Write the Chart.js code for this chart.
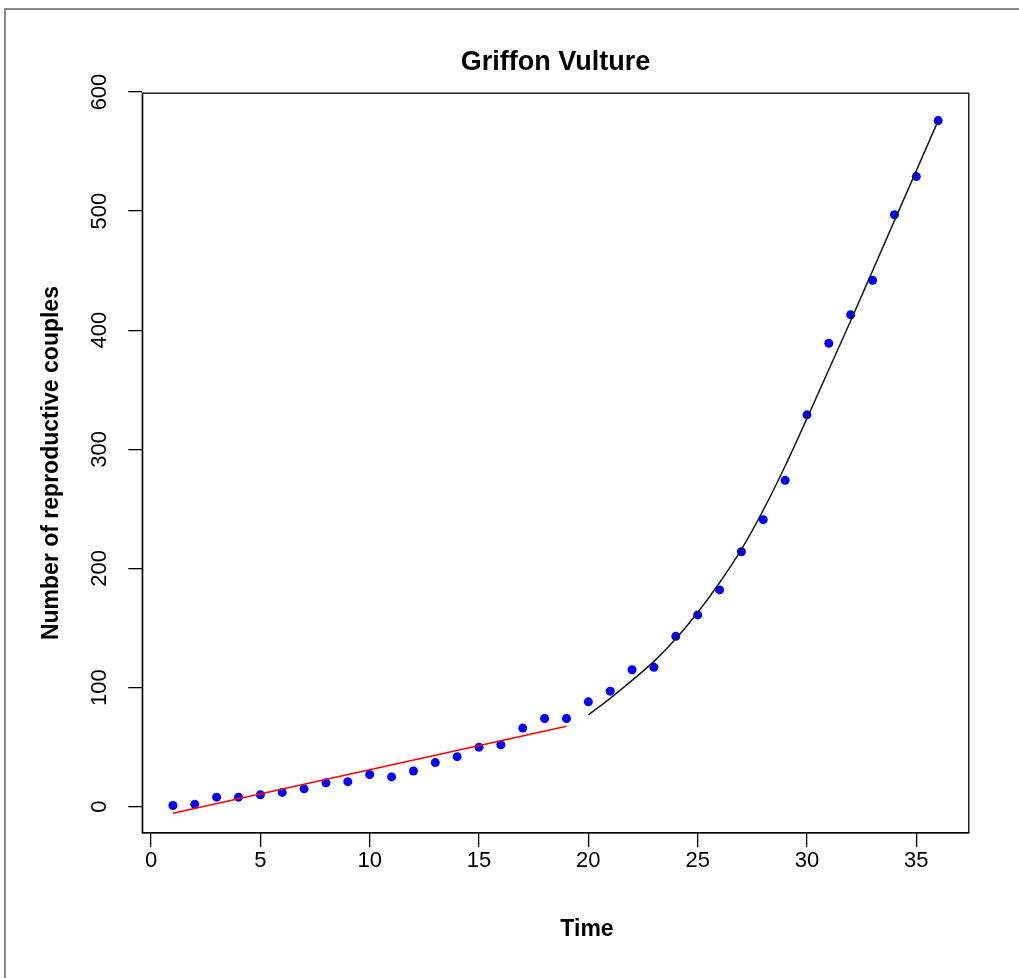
<!DOCTYPE html>
<html>
<head>
<meta charset="utf-8">
<title>Griffon Vulture</title>
<script src="https://cdn.jsdelivr.net/npm/chart.js@4"></script>
<style>
    body { margin: 0; background: #fff; overflow: hidden; }
    .frame {
        position: absolute; left: 4px; top: 8px; width: 1100px; height: 1100px;
        border-left: 2px solid #8c8c8c; border-top: 2px solid #8c8c8c;
    }
    #chart { position: absolute; left: 0; top: 0; }
</style>
</head>
<body>
<div class="frame"></div>
<canvas id="chart" width="1019" height="978"></canvas>
<script>
// observed counts
const time = [1, 2, 3, 4, 5, 6, 7, 8, 9, 10, 11, 12, 13, 14, 15, 16, 17, 18,
    19, 20, 21, 22, 23, 24, 25, 26, 27, 28, 29, 30, 31, 32, 33, 34, 35, 36];
const couples = [1, 2, 8, 8, 10, 12, 15, 20, 21, 27, 25, 30, 37, 42, 50, 52, 66, 74,
    74, 88, 97, 115, 117, 143, 161, 182, 214, 241, 274, 329, 389, 413, 442, 497, 529, 576];

// red linear fit (first phase)
const redTime = [1, 19];
const redFit = [-5.5, 67.5];

// black fitted curve (second phase)
const curveTime = [20, 21, 22, 23, 24, 25, 26, 27, 28, 29, 30, 31, 32, 33, 34, 35, 36];
const curveFit = [77, 91, 106, 122, 141, 163, 188, 216, 249, 286, 326, 367, 408, 450, 492, 534, 576];

const xTicks = [0, 5, 10, 15, 20, 25, 30, 35];
const yTicks = [0, 100, 200, 300, 400, 500, 600];

const FONT = "'Liberation Sans', Arial, Helvetica, sans-serif";

const toXY = (xs, ys) => xs.map((x, i) => ({ x: x, y: ys[i] }));

// R style box around the plot region + x label
const boxPlugin = {
    id: 'box',
    afterDraw(chart) {
        const { ctx, chartArea } = chart;
        ctx.save();
        ctx.strokeStyle = '#000';
        ctx.lineWidth = 1.3;
        ctx.strokeRect(chartArea.left, chartArea.top, chartArea.right - chartArea.left, chartArea.bottom - chartArea.top);
        ctx.fillStyle = '#000';
        ctx.font = 'bold 23px ' + FONT;
        ctx.textAlign = 'center';
        ctx.textBaseline = 'middle';
        ctx.fillText('Time', 587, 930);
        ctx.restore();
    }
};

const ctx = document.getElementById('chart').getContext('2d');
const chart = new Chart(ctx, {
    type: 'scatter',
    data: {
        datasets: [
            {
                label: 'Fit 1',
                data: toXY(redTime, redFit),
                showLine: true,
                borderColor: '#ff0000',
                borderWidth: 1.5,
                pointRadius: 0,
                fill: false,
            },
            {
                label: 'Fit 2',
                data: toXY(curveTime, curveFit),
                showLine: true,
                borderColor: '#1a1a1a',
                borderWidth: 1.5,
                cubicInterpolationMode: 'monotone',
                pointRadius: 0,
                fill: false,
            },
            {
                label: 'Couples',
                data: toXY(time, couples),
                showLine: false,
                backgroundColor: '#0000ff',
                borderColor: '#0000ff',
                pointRadius: 4.5,
                pointBorderWidth: 0,
            }
        ]
    },
    options: {
        responsive: false,
        animation: false,
        devicePixelRatio: 1,
        layout: {
            padding: { left: 0, right: 50.2, top: 0, bottom: 0 }
        },
        scales: {
            x: {
                type: 'linear',
                min: -0.4,
                max: 37.4,
                afterBuildTicks: scale => { scale.ticks = xTicks.map(v => ({ value: v })); },
                afterFit: scale => { scale.height = 978 - 832.9; },
                border: { display: true, color: '#000', width: 1.3 },
                grid: { drawOnChartArea: false, drawTicks: true, tickLength: 14, color: '#000', lineWidth: 1.3 },
                ticks: {
                    color: '#000',
                    padding: 1,
                    maxRotation: 0,
                    autoSkip: false,
                    font: { family: FONT, size: 22 }
                },
                title: { display: false }
            },
            y: {
                type: 'linear',
                min: -22,
                max: 599,
                afterBuildTicks: scale => { scale.ticks = yTicks.map(v => ({ value: v })); },
                afterFit: scale => { scale.width = 142.3; },
                border: { display: true, color: '#000', width: 1.3 },
                grid: { drawOnChartArea: false, drawTicks: true, tickLength: 14, color: '#000', lineWidth: 1.3 },
                ticks: {
                    color: '#000',
                    padding: 10,
                    minRotation: 90,
                    maxRotation: 90,
                    crossAlign: 'center',
                    autoSkip: false,
                    font: { family: FONT, size: 22 }
                },
                title: {
                    display: true,
                    text: 'Number of reproductive couples',
                    color: '#000',
                    padding: { top: 38, bottom: 0 },
                    font: { family: FONT, size: 23, weight: 'bold' }
                }
            }
        },
        plugins: {
            legend: { display: false },
            tooltip: { enabled: false },
            title: {
                display: true,
                text: 'Griffon Vulture',
                fullSize: false,
                color: '#000',
                padding: { top: 46, bottom: 14.8 },
                font: { family: FONT, size: 27, weight: 'bold' }
            }
        }
    },
    plugins: [boxPlugin]
});
</script>
</body>
</html>
